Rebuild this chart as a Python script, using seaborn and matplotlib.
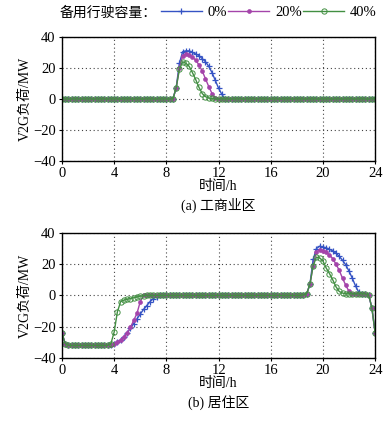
import numpy as np
import pandas as pd
import matplotlib
matplotlib.use("Agg")
import matplotlib.pyplot as plt
import seaborn as sns

# time axis: 15-min steps over one day (97 points)
hours = np.arange(97) * 0.25

# (a) commercial district, V2G load in MW
com_0 = [0.0] * 35 + [7, 23, 30.5, 31, 31, 30, 29, 28, 26, 24, 21, 17, 12, 7, 3] + [0.0] * 47
com_20 = [0.0] * 35 + [7, 20, 28, 29, 28.5, 27, 25, 22, 18, 13, 8, 3.5, 0.5] + [0.0] * 49
com_40 = [0.0] * 35 + [7, 19, 24, 23, 21, 17, 12.5, 7.5, 3.5, 1.5, 0.6, 0.3] + [0.0] * 50

# (b) residential district
res_0 = ([-24, -31] + [-32] * 13 + [-31.5, -31, -30, -28.5, -26.5, -24, -21, -18, -15, -12, -9,
         -6.5, -4, -2, -0.8] + [0.0] * 44 + [0.3, 1, 7, 23, 30, 31.5, 31, 30.5, 29.5, 28.5, 27,
         25, 22.5, 19.5, 15.5, 11, 6, 2, 1, 1, 0.5, -8, -24])
res_20 = ([-24, -31] + [-32] * 13 + [-31.5, -31, -30, -28.5, -26.5, -24, -20.5, -16, -11.5, -4]
          + [0.0] * 49 + [0.3, 1, 7, 19, 28, 29, 28.5, 27.5, 26, 23.5, 20, 16, 11, 6.5, 2.5,
          1.2, 1, 1, 1, 1, 0.5, -8, -24])
res_40 = ([-24, -31] + [-32] * 13 + [-31, -23.5, -10.5, -4, -3, -2.5, -2, -1.5, -1, -0.5, -0.3]
          + [0.0] * 48 + [0.3, 1, 7, 19, 24.5, 24, 22, 17.5, 14, 10, 5.5, 2.5, 1.5, 1, 1, 1,
          1, 1, 1, 1, 0.5, -8, -24])

labels = ["0%", "20%", "40%"]
colors = ["#3553c4", "#a444aa", "#428f42"]
styles = [dict(marker="+", markersize=5, markeredgewidth=0.9),
          dict(marker="o", markersize=2.8, markeredgewidth=0.5),
          dict(marker="o", markersize=3.8, markeredgewidth=0.7, markerfacecolor="none")]
yticks = [-40, -20, 0, 20, 40]
xticks = [0, 4, 8, 12, 16, 20, 24]

panels = [("(a) 工商业区", [com_0, com_20, com_40]),
          ("(b) 居住区", [res_0, res_20, res_40])]

plt.rcParams["font.family"] = ["Liberation Serif", "Noto Sans CJK SC"]
plt.rcParams["font.size"] = 9.5

fig = plt.figure(figsize=(3.92, 4.22), dpi=100)
ax_a = fig.add_axes([0.158, 0.6185, 0.799, 0.294])
ax_b = fig.add_axes([0.158, 0.152, 0.799, 0.296])

handles = []
for ax, (caption, series) in zip([ax_a, ax_b], panels):
    for vals, lab, col, st in zip(series, labels, colors, styles):
        df = pd.DataFrame({"t": hours, "v": vals})
        # seaborn defaults marker edges to white, so set them to the line colour
        sns.lineplot(data=df, x="t", y="v", ax=ax, color=col, lw=1.0,
                     errorbar=None, label=lab, markeredgecolor=col, **st)
    ax.set_xlim(0, 24)
    ax.set_ylim(-40, 40)
    ax.set_xticks(xticks)
    ax.set_yticks(yticks)
    ax.grid(True, linestyle=(0, (1, 2.5)), color="#444444", lw=0.8)
    ax.tick_params(direction="out", length=2.5, width=0.8, pad=2, labelsize=10.5)
    for s in ax.spines.values():
        s.set_linewidth(1.0)
        s.set_color("black")
    ax.set_xlabel("时间/h", labelpad=0, fontsize=10)
    ax.set_ylabel("V2G负荷/MW", labelpad=1, fontsize=10)
    ax.text(0.5, -0.36, caption, transform=ax.transAxes, ha="center", va="center",
            fontsize=10)
    if not handles:
        handles, _ = ax.get_legend_handles_labels()
    ax.get_legend().remove()

fig.text(0.153, 0.97, "备用行驶容量：", ha="left", va="center", fontsize=10)
fig.legend(handles, labels, loc="center left", bbox_to_anchor=(0.41, 0.97), ncol=3,
           frameon=False, handlelength=2.8, handletextpad=0.4, columnspacing=0.1,
           borderpad=0, borderaxespad=0, fontsize=10.5)

fig.savefig("out.png", dpi=100)
